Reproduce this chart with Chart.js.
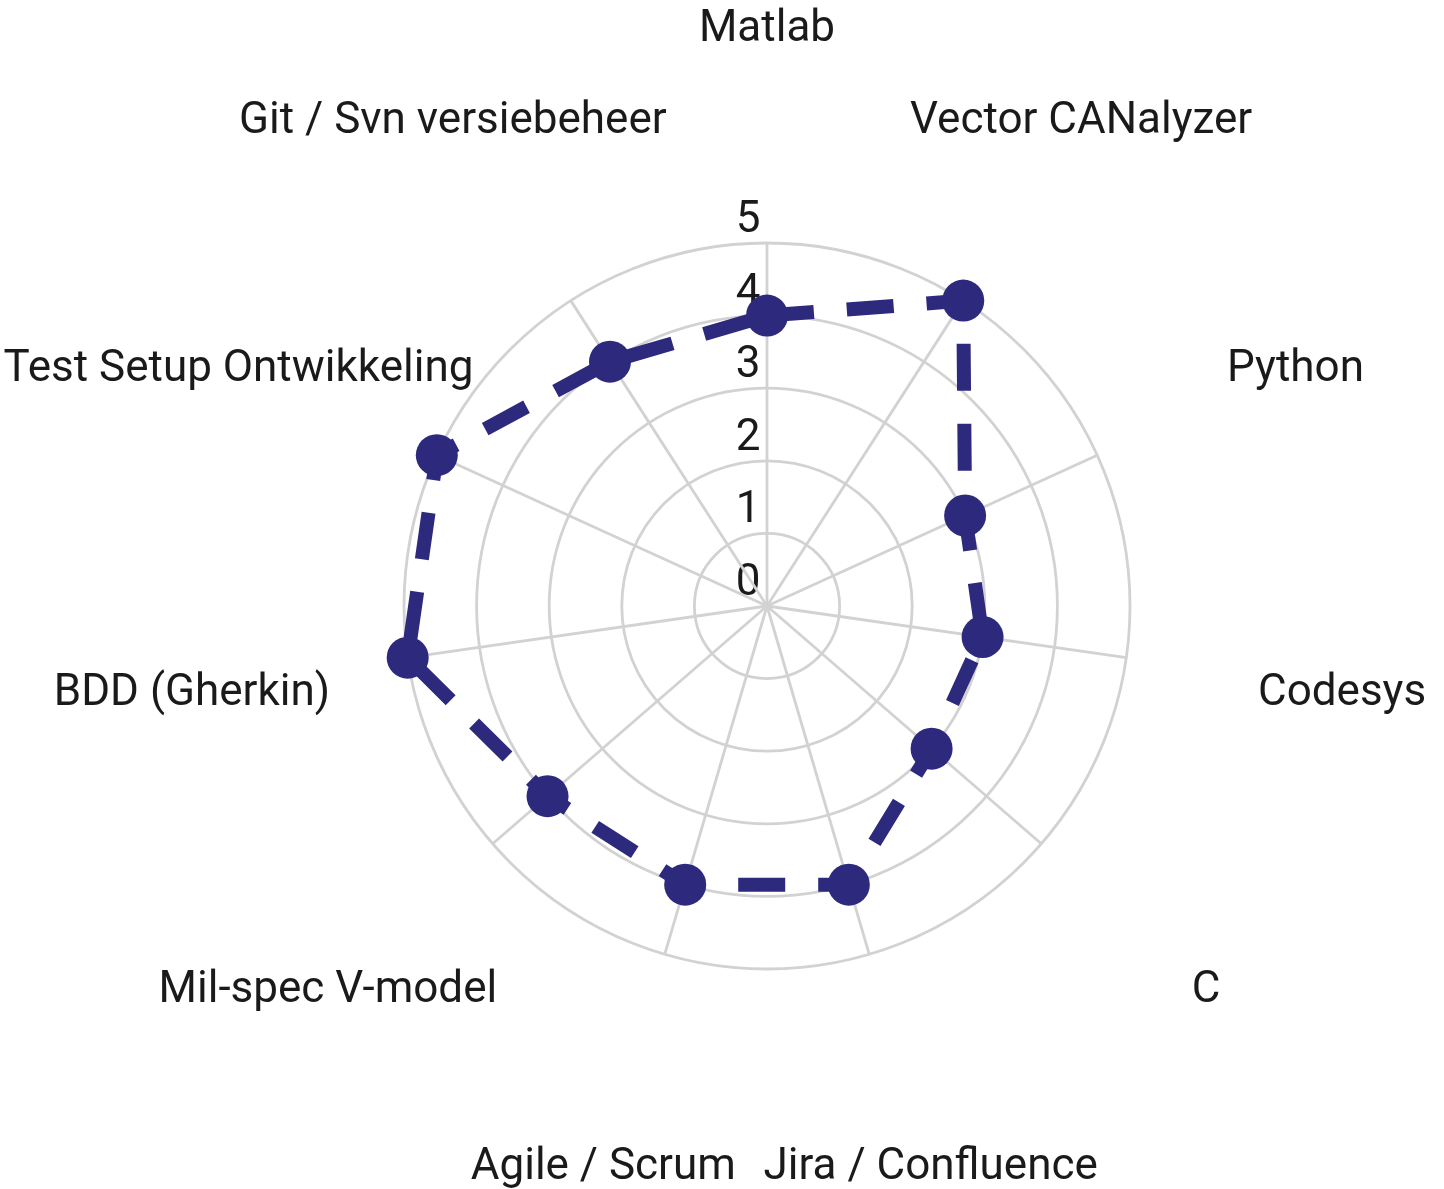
<!DOCTYPE html>
<html>
<head>
<meta charset="utf-8">
<script src="https://cdn.jsdelivr.net/npm/chart.js@4/dist/chart.umd.min.js"></script>
<style>
    html, body { margin: 0; padding: 0; background: #fff; }
    #wrap { width: 1444px; height: 1189px; }
</style>
</head>
<body>
<div id="wrap"><canvas id="skillRadar"></canvas></div>
<script>
// categories, clockwise from the top
var skills = [
    "Matlab",
    "Vector CANalyzer",
    "Python",
    "Codesys",
    "C",
    "Jira / Confluence",
    "Agile / Scrum",
    "Mil-spec V-model",
    "BDD (Gherkin)",
    "Test Setup Ontwikkeling",
    "Git / Svn versiebeheer",
];
var levels = [4, 5, 3, 3, 3, 4, 4, 4, 5, 5, 4];
var tickValues = [0, 1, 2, 3, 4, 5];

var lineColor = "#2d2a7e";
var textColor = "#1a1a1a";
var fontSize = 44;

// labels are drawn centred at a fixed distance outside the web
var labelPlugin = {
    id: "radarText",
    beforeDraw: function (chart) {
        var scale = chart.scales.r;
        var ctx = chart.ctx;
        ctx.save();
        ctx.font = "400 " + fontSize + "px Roboto";
        ctx.fillStyle = textColor;
        ctx.textAlign = "center";
        ctx.textBaseline = "middle";
        // tick numbers, a little left of and above each ring
        tickValues.forEach(function (v) {
            var d = scale.getDistanceFromCenterForValue(v);
            ctx.fillText(String(v), scale.xCenter - 19, scale.yCenter - d - 22);
        });
        // category names
        skills.forEach(function (name, i) {
            var p = scale.getPointPosition(i, scale.drawingArea + 218);
            ctx.fillText(name, p.x, p.y + 5);
        });
        ctx.restore();
    },
};

var ctx = document.getElementById("skillRadar").getContext("2d");

new Chart(ctx, {
    type: "radar",
    data: {
        labels: skills,
        datasets: [
            {
                data: levels,
                borderColor: lineColor,
                backgroundColor: "rgba(0,0,0,0)",
                borderWidth: 14,
                borderDash: [47, 33],
                fill: false,
                tension: 0,
                pointRadius: 21,
                pointBackgroundColor: lineColor,
                pointBorderColor: lineColor,
                pointBorderWidth: 0,
            },
        ],
    },
    options: {
        responsive: true,
        maintainAspectRatio: false,
        animation: false,
        layout: {
            padding: { top: 243, bottom: 220, left: 404, right: 314 },
        },
        plugins: {
            legend: { display: false },
            tooltip: { enabled: false },
        },
        scales: {
            r: {
                min: 0,
                max: 5,
                ticks: { display: false, stepSize: 1 },
                pointLabels: { display: false },
                grid: { color: "#d2d2d2", lineWidth: 2.8, circular: true },
                angleLines: { color: "#d2d2d2", lineWidth: 2.8 },
            },
        },
    },
    plugins: [labelPlugin],
});
</script>
</body>
</html>
